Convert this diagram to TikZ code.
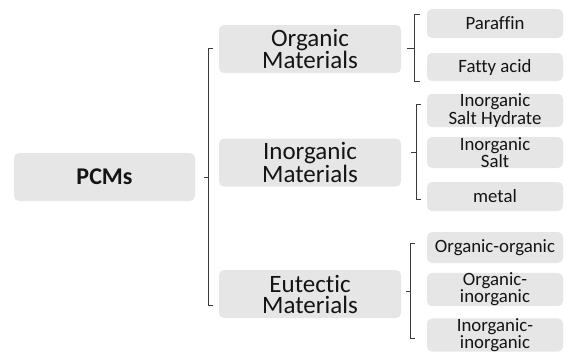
\documentclass[tikz,border=0pt]{standalone}
\usepackage{fontspec}
\setmainfont{Carlito}[Ligatures=NoCommon]
\definecolor{boxgray}{HTML}{E6E6E6}
\definecolor{txtgray}{HTML}{141414}
\definecolor{brgray}{HTML}{3A3A3A}
\begin{document}
\begin{tikzpicture}[y=-1pt, x=1pt,
  box/.style={fill=boxgray, rounded corners=5pt, inner sep=0pt, text=txtgray, align=center},
  rootbox/.style={box, minimum width=181pt, minimum height=48pt, font=\bfseries\fontsize{24}{24}\selectfont},
  groupbox/.style={box, minimum width=182pt, minimum height=48pt, font=\fontsize{25}{21}\selectfont},
  leafbox/.style={box, minimum width=136pt, minimum height=30pt, font=\fontsize{18.8}{15.5}\selectfont},
  brace/.style={draw=brgray, line width=0.8pt}]
  \useasboundingbox (0,0) rectangle (566,354);
  % root
  \node[rootbox] (pcms) at (104.5,177) {PCMs};
  % groups
  \node[groupbox] (org) at (310,49) {Organic\\Materials};
  \node[groupbox] (inorg) at (310,162.5) {Inorganic\\Materials};
  \node[groupbox] (eut) at (310,294) {Eutectic\\Materials};
  % leaves
  \node[leafbox, minimum height=29pt] (paraffin) at (495,23.5) {Paraffin};
  \node[leafbox, minimum height=28pt] (fatty) at (495,67) {Fatty acid};
  \node[leafbox, minimum height=31pt] (salthyd) at (495,110.5) {Inorganic\\Salt Hydrate};
  \node[leafbox, minimum height=31pt] (salt) at (495,152.5) {Inorganic\\Salt};
  \node[leafbox, minimum height=29pt] (metal) at (495,196.5) {metal};
  \node[leafbox, minimum height=31pt] (orgorg) at (495,247.5) {Organic-organic};
  \node[leafbox, minimum height=31pt] (orginorg) at (495,289.5) {Organic-\\inorganic};
  \node[leafbox, minimum height=30pt] (inorginorg) at (495,335) {Inorganic-\\inorganic};
  % brackets
  \coordinate (b0) at (208,177);
  \draw[brace] (213,48) -- (208,48) -- (208,305) -- (213,305);
  \draw[brace] (pcms.east -| 204,0) -- (b0);
  \coordinate (b1) at (414,48);
  \draw[brace] (420,14) -- (414,14) -- (414,81) -- (420,81);
  \draw[brace] (407,48) -- (b1);
  \coordinate (b2) at (416,152);
  \draw[brace] (421,104) -- (416,104) -- (416,199) -- (421,199);
  \draw[brace] (411,152) -- (b2);
  \coordinate (b3) at (410,291);
  \draw[brace] (415,243) -- (410,243) -- (410,338) -- (415,338);
  \draw[brace] (406,291) -- (b3);
\end{tikzpicture}
\end{document}
